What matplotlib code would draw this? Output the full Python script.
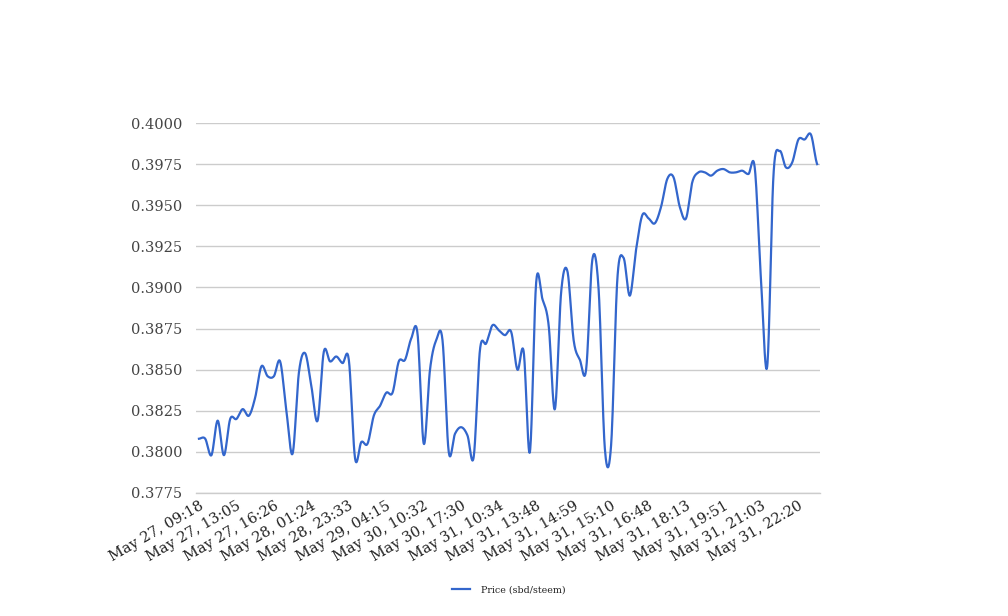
import numpy as np
import matplotlib
matplotlib.use("Agg")
from matplotlib import pyplot as plt

# tick labels shown on x axis (every 6th sample)
tick_labels = ["May 27, 09:18", "May 27, 13:05", "May 27, 16:26", "May 28, 01:24",
               "May 28, 23:33", "May 29, 04:15", "May 30, 10:32", "May 30, 17:30",
               "May 31, 10:34", "May 31, 13:48", "May 31, 14:59", "May 31, 15:10",
               "May 31, 16:48", "May 31, 18:13", "May 31, 19:51", "May 31, 21:03",
               "May 31, 22:20"]
label_step = 6

price = [
    0.3808, 0.3808, 0.3798, 0.3819, 0.3798, 0.3820, 0.3820, 0.3826, 0.3822, 0.3833,
    0.3852, 0.3846, 0.3846, 0.3855, 0.3825, 0.3799, 0.3848, 0.3860, 0.3840, 0.3819,
    0.3861, 0.3855, 0.3858, 0.3854, 0.3856, 0.3796, 0.3806, 0.3805, 0.3822, 0.3828,
    0.3836, 0.3836, 0.3855, 0.3856, 0.3869, 0.3872, 0.3805, 0.3850, 0.3868, 0.3868,
    0.3800, 0.3811, 0.3815, 0.3810, 0.3797, 0.3862, 0.3866, 0.3877, 0.3874, 0.3871,
    0.3873, 0.3850, 0.3861, 0.3800, 0.3903, 0.3893, 0.3877, 0.3826, 0.3897, 0.3910,
    0.3868, 0.3856, 0.3850, 0.3917, 0.3899, 0.3802, 0.3804, 0.3905, 0.3918, 0.3895,
    0.3923, 0.3944, 0.3942, 0.3939, 0.3949, 0.3966, 0.3967, 0.3949, 0.3942, 0.3964,
    0.3970, 0.3970, 0.3968, 0.3971, 0.3972, 0.3970, 0.3970, 0.3971, 0.3969, 0.3973,
    0.3905, 0.3852, 0.3968, 0.3983, 0.3973, 0.3976, 0.3990, 0.3990, 0.3993, 0.3975,
]

y_ticks = [0.3775, 0.3800, 0.3825, 0.3850, 0.3875, 0.3900, 0.3925, 0.3950, 0.3975, 0.4000]


def smooth(y, n=20):
    # catmull-rom spline through the points
    y = np.asarray(y, dtype=float)
    p = np.concatenate([[y[0]], y, [y[-1]]])
    xs, ys = [], []
    t = np.linspace(0, 1, n, endpoint=False)
    for i in range(len(y) - 1):
        p0, p1, p2, p3 = p[i], p[i + 1], p[i + 2], p[i + 3]
        m1 = (p2 - p0) / 2
        m2 = (p3 - p1) / 2
        h00 = 2 * t**3 - 3 * t**2 + 1
        h10 = t**3 - 2 * t**2 + t
        h01 = -2 * t**3 + 3 * t**2
        h11 = t**3 - t**2
        xs.append(i + t)
        ys.append(h00 * p1 + h10 * m1 + h01 * p2 + h11 * m2)
    xs.append([len(y) - 1])
    ys.append([y[-1]])
    return np.concatenate(xs), np.concatenate(ys)


def main():
    plt.rcParams['font.family'] = ['DejaVu Serif']
    fig = plt.figure(figsize=(10.08, 6.16), dpi=100)
    ax = fig.add_axes([0.1944, 0.1997, 0.619, 0.6006])

    xs, ys = smooth(price)
    ax.plot(xs, ys, color="#3366cc", lw=1.6, label="Price (sbd/steem)")

    ax.set_ylim(0.3775, 0.4000)
    ax.set_xlim(-0.48, 99.44)
    ax.set_yticks(y_ticks)
    ax.set_yticklabels(["%.4f" % v for v in y_ticks])
    ax.set_xticks(np.arange(len(tick_labels)) * label_step)
    ax.set_xticklabels(tick_labels, rotation=30, ha="right", rotation_mode="anchor")

    ax.grid(axis="y", color="#cccccc", lw=1)
    ax.axhline(y_ticks[0], color="#cccccc", lw=1, clip_on=False, zorder=0.5)
    ax.set_axisbelow(True)
    for s in ax.spines.values():
        s.set_visible(False)
    ax.tick_params(axis="both", length=0)
    ax.tick_params(axis="y", pad=10, labelsize=10.5, labelcolor="#444444")
    ax.tick_params(axis="x", pad=4, labelsize=10.5, labelcolor="#222222")

    fig.legend(loc="center", bbox_to_anchor=(0.505, 0.042), frameon=False,
               fontsize=6.8, handlelength=1.9, handletextpad=1.2,
               labelcolor="#222222")

    fig.savefig("out.png", dpi=100, facecolor="white")


if __name__ == "__main__":
    main()
